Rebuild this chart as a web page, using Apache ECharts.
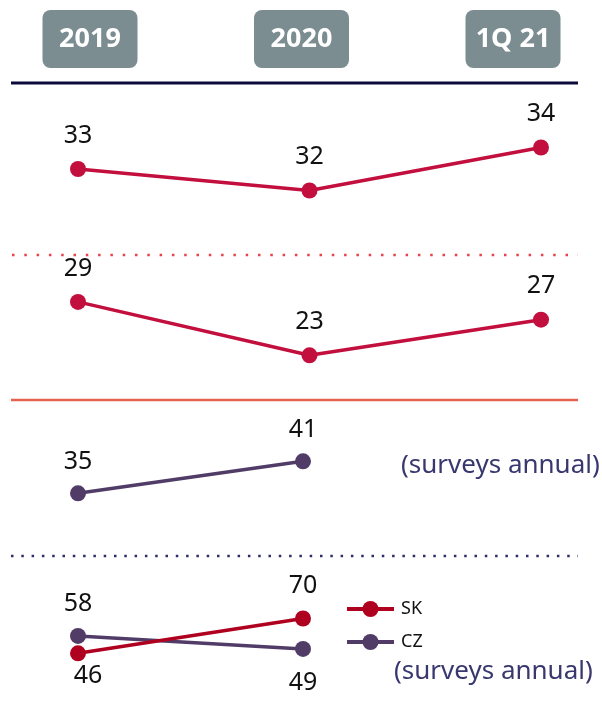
<!DOCTYPE html>
<html>
<head>
<meta charset="utf-8">
<script src="https://cdn.jsdelivr.net/npm/echarts@6/dist/echarts.min.js"></script>
<style>
html,body{margin:0;padding:0;background:#fff;}
#c{width:602px;height:707px;}
</style>
</head>
<body>
<div id="c"></div>
<script>
const categories = ['2019', '2020', '1Q 21'];
const headerLabels = ['2019', '2020', '1Q 21'];
const panel1Values = [33, 32, 34];
const panel2Values = [29, 23, 27];
const panel3Values = [35, 41, null];
const skValues = [46, 70, null];
const czValues = [58, 49, null];
const noteText = '(surveys annual)';

const FONT = 'Noto Sans';
const CRIMSON = '#c20f3e';
const PURPLE = '#503c66';
const SK_RED = '#b0001f';
const NOTE = '#38386f';

const chart = echarts.init(document.getElementById('c'), null, {renderer: 'canvas'});

function hiddenX(grid, pos) {
  return {type: 'category', gridIndex: grid, data: categories, boundaryGap: false,
    position: pos || 'bottom',
    axisLine: {show: false}, axisTick: {show: false}, axisLabel: {show: false}, splitLine: {show: false}};
}
function hiddenY(grid, min, max) {
  return {type: 'value', gridIndex: grid, min: min, max: max,
    axisLine: {show: false}, axisTick: {show: false}, axisLabel: {show: false}, splitLine: {show: false}};
}
function labelCfg(pos, dist) {
  return {show: true, position: pos, distance: dist, color: '#111', fontSize: 25, fontFamily: FONT};
}
function withLabels(values, labelOpts) {
  return values.map((v, i) => v == null ? v : ({value: v, label: labelOpts[i]}));
}

const option = {
  animation: false,
  grid: [
    {left: 78, width: 463, top: 126, height: 86},
    {left: 78, width: 463, top: 293, height: 89},
    {left: 78, width: 450, top: 440, height: 80},
    {left: 78, width: 450, top: 604, height: 58},
    {left: 90, width: 423, top: 68, height: 5}
  ],
  xAxis: [
    hiddenX(0), hiddenX(1), hiddenX(2), hiddenX(3),
    {type: 'category', gridIndex: 4, data: headerLabels, boundaryGap: false, position: 'top',
      axisLine: {show: false}, axisTick: {show: false}, splitLine: {show: false},
      axisLabel: {show: true, margin: 0, color: '#fff', fontWeight: 'bold', fontSize: 27, fontFamily: FONT,
        backgroundColor: '#7b8d91', borderRadius: 8, width: 95, height: 58, lineHeight: 58,
        align: 'center', verticalAlign: 'bottom'}}
  ],
  yAxis: [hiddenY(0, 31, 35), hiddenY(1, 20, 30), hiddenY(2, 30, 45), hiddenY(3, 40, 80), hiddenY(4, 0, 1)],
  legend: {
    orient: 'vertical', left: 340, top: 595, itemWidth: 47, itemHeight: 20, itemGap: 15,
    data: ['SK', 'CZ'],
    lineStyle: {width: 4},
    textStyle: {color: '#111', fontSize: 18, fontFamily: FONT, padding: [0, 0, 0, 2]}
  },
  graphic: [
    {type: 'line', shape: {x1: 11, y1: 83, x2: 578, y2: 83}, style: {stroke: '#0b0a3a', lineWidth: 3}},
    {type: 'line', shape: {x1: 12, y1: 255, x2: 578, y2: 255}, style: {stroke: '#e8404c', lineWidth: 2.5, lineDash: [2.5, 9.8]}},
    {type: 'line', shape: {x1: 11, y1: 400, x2: 578, y2: 400}, style: {stroke: '#e8604f', lineWidth: 2.5}},
    {type: 'line', shape: {x1: 11, y1: 556, x2: 578, y2: 556}, style: {stroke: '#2e2d68', lineWidth: 2.5, lineDash: [2.5, 7.8]}},
    {type: 'text', left: 401, top: 453, style: {text: noteText, fill: NOTE, fontSize: 26, fontFamily: FONT}},
    {type: 'text', left: 394, top: 659, style: {text: noteText, fill: NOTE, fontSize: 26, fontFamily: FONT}}
  ],
  series: [
    {name: 'p1', type: 'line', xAxisIndex: 0, yAxisIndex: 0, data: panel1Values,
      symbol: 'circle', symbolSize: 16, lineStyle: {color: CRIMSON, width: 3.5}, itemStyle: {color: CRIMSON},
      label: labelCfg('top', 13)},
    {name: 'p2', type: 'line', xAxisIndex: 1, yAxisIndex: 1, data: panel2Values,
      symbol: 'circle', symbolSize: 16, lineStyle: {color: CRIMSON, width: 3.5}, itemStyle: {color: CRIMSON},
      label: labelCfg('top', 13)},
    {name: 'p3', type: 'line', xAxisIndex: 2, yAxisIndex: 2, data: panel3Values,
      symbol: 'circle', symbolSize: 16, lineStyle: {color: PURPLE, width: 3.5}, itemStyle: {color: PURPLE},
      label: labelCfg('top', 11)},
    {name: 'CZ', type: 'line', xAxisIndex: 3, yAxisIndex: 3,
      data: withLabels(czValues, [{position: 'top', distance: 12}, {position: 'bottom', distance: 13}]),
      symbol: 'circle', symbolSize: 16, lineStyle: {color: PURPLE, width: 3.5}, itemStyle: {color: PURPLE},
      label: labelCfg('top', 12)},
    {name: 'SK', type: 'line', xAxisIndex: 3, yAxisIndex: 3,
      data: withLabels(skValues, [{position: 'bottom', distance: 2, offset: [10, 0]}, {position: 'top', distance: 12}]),
      symbol: 'circle', symbolSize: 16, lineStyle: {color: SK_RED, width: 3.5}, itemStyle: {color: SK_RED},
      label: labelCfg('top', 12)}
  ]
};
chart.setOption(option);
</script>
</body>
</html>
